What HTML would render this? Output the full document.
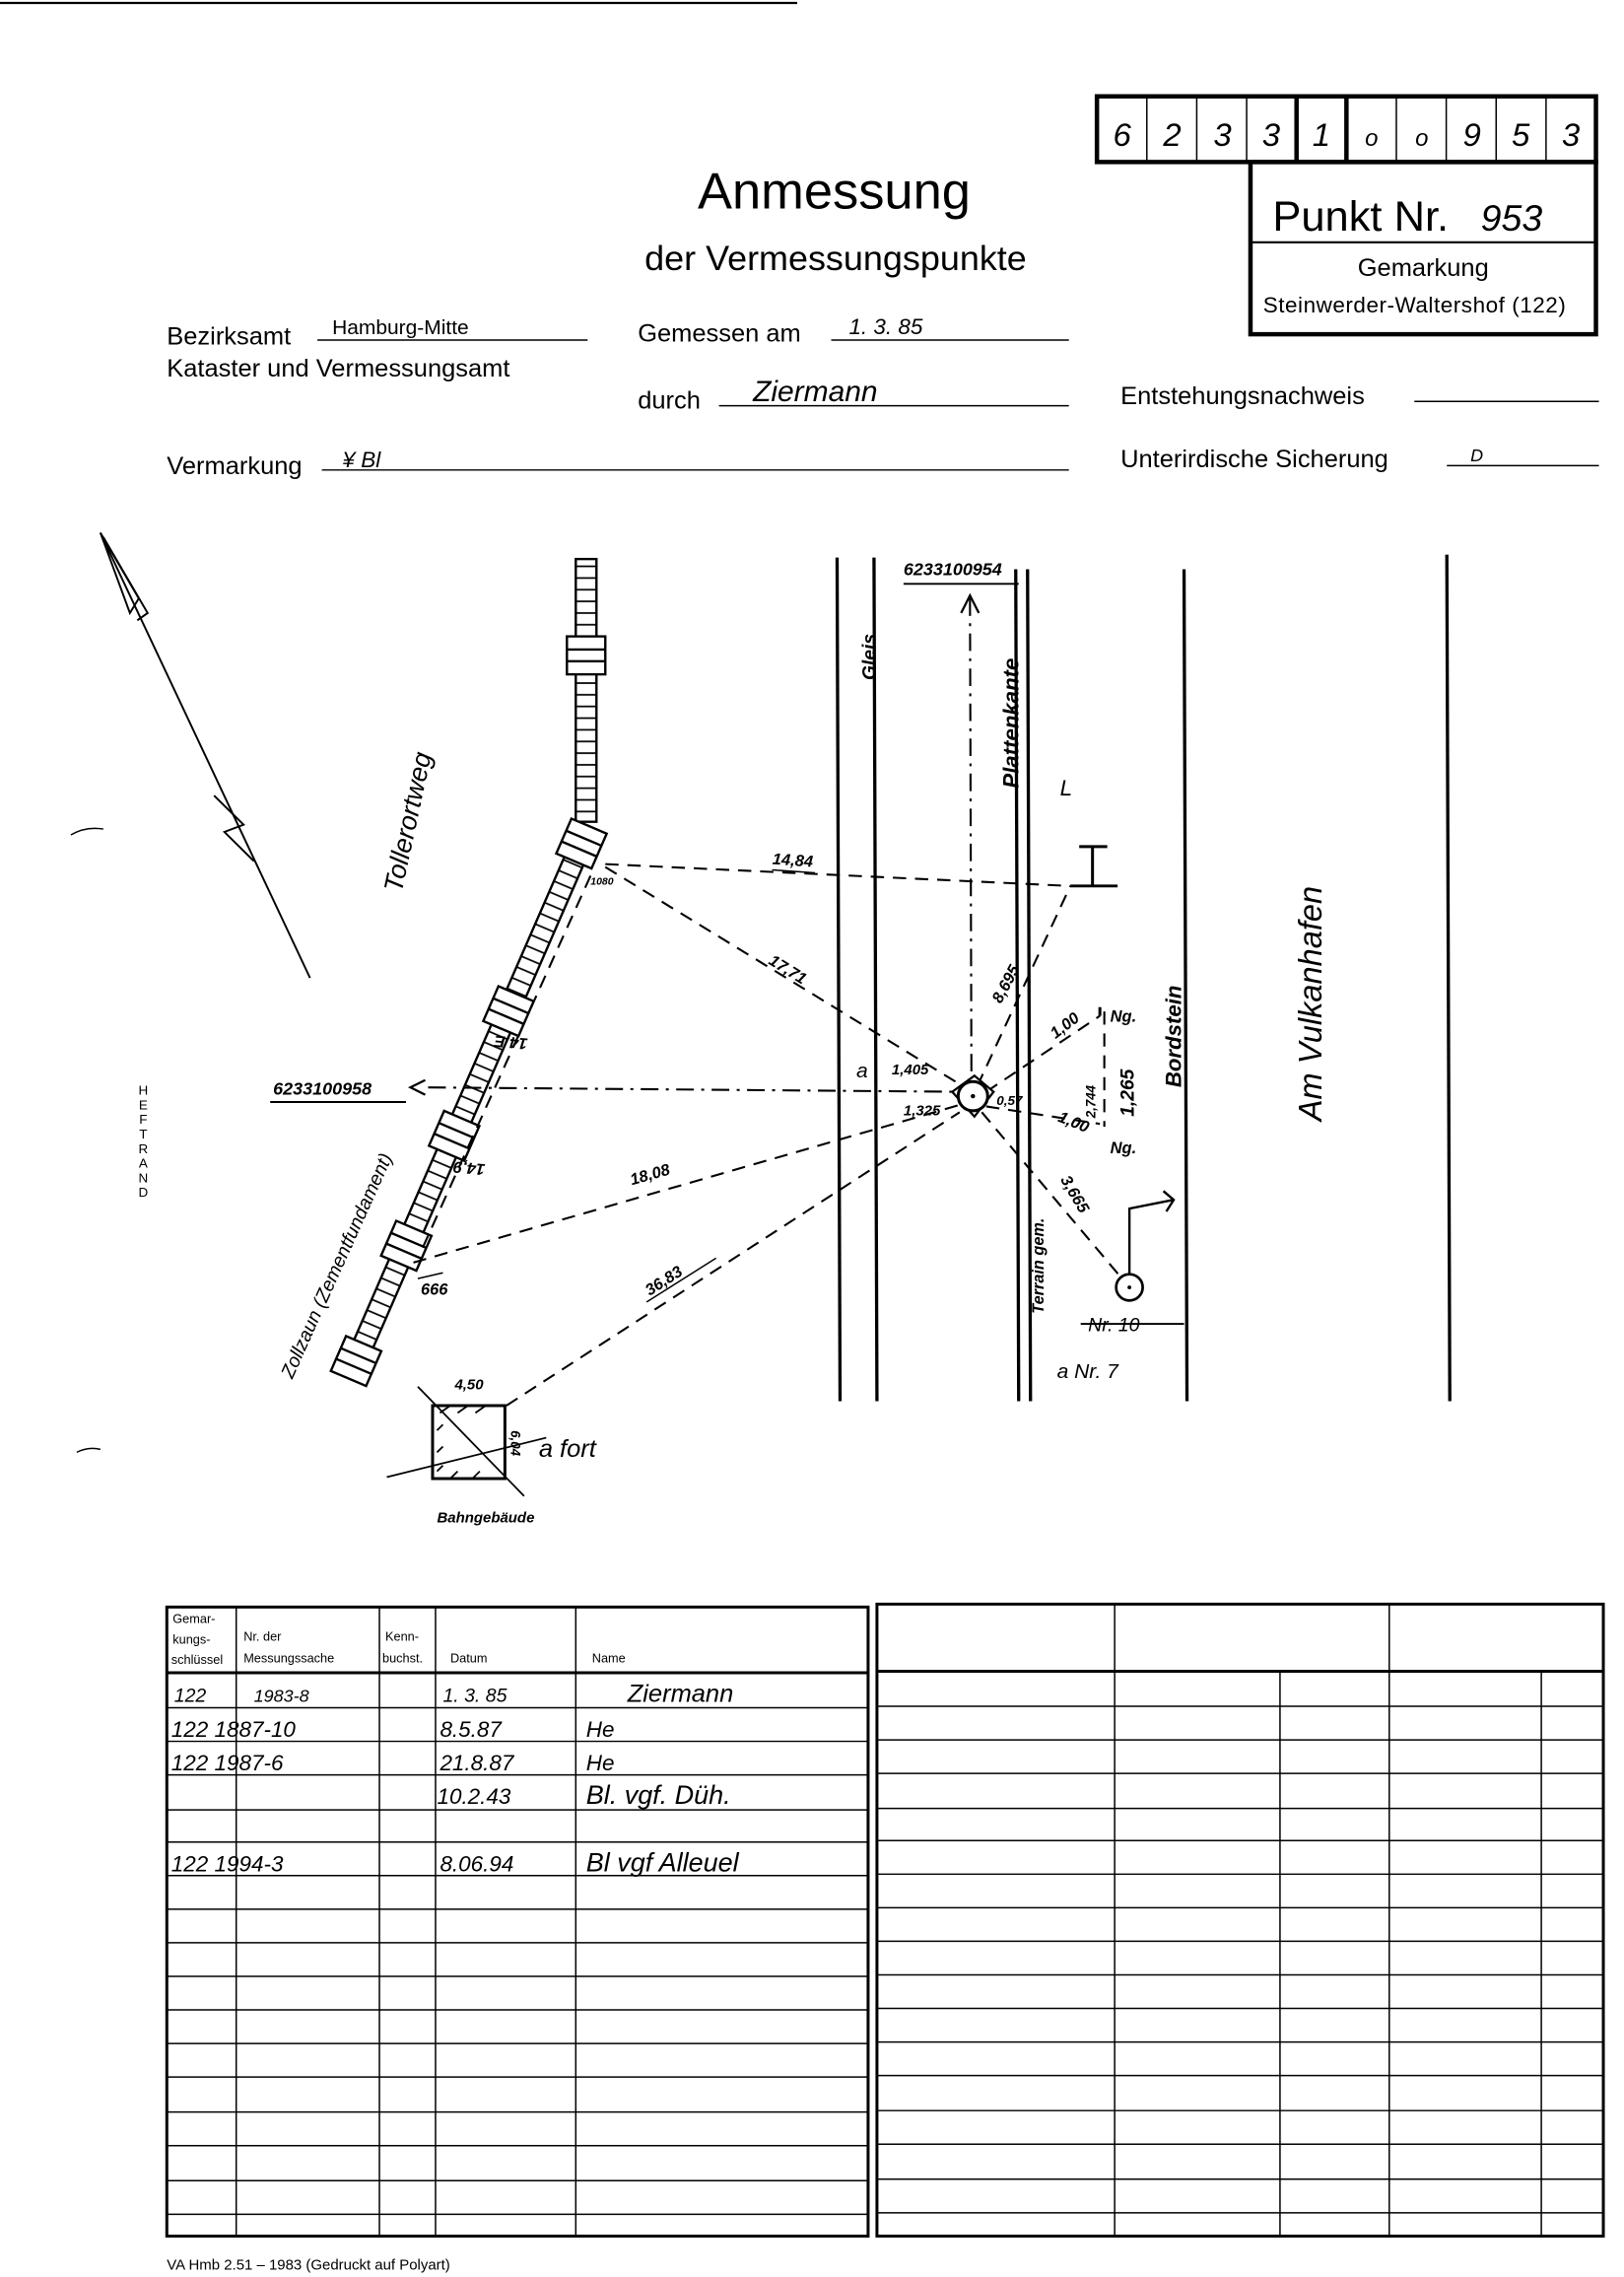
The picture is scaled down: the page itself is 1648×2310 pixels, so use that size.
<!DOCTYPE html>
<html><head><meta charset="utf-8"><style>
html,body{margin:0;padding:0;background:#fff;}
svg{display:block;}
text{font-family:"Liberation Sans",sans-serif;fill:#000;}
.h{font-family:"Liberation Sans",sans-serif;font-style:italic;}
</style></head><body>
<svg width="1648" height="2310" viewBox="0 0 1100 1560" preserveAspectRatio="none" xmlns="http://www.w3.org/2000/svg">
<defs>
<pattern id="hat" patternUnits="userSpaceOnUse" width="20" height="8"><line x1="0" y1="4" x2="20" y2="4" stroke="#000" stroke-width="1.2"/></pattern>
</defs>
<rect width="1100" height="1560" fill="#fff"/>
<line x1="0" y1="2" x2="540" y2="2" stroke="#000" stroke-width="1.5"/>

<!-- number row -->
<g stroke="#000" fill="none">
<rect x="743" y="66" width="338" height="45" stroke-width="3"/>
<line x1="776.8" y1="66" x2="776.8" y2="111" stroke-width="1"/>
<line x1="810.6" y1="66" x2="810.6" y2="111" stroke-width="1"/>
<line x1="844.4" y1="66" x2="844.4" y2="111" stroke-width="1"/>
<line x1="878.2" y1="66" x2="878.2" y2="111" stroke-width="3"/>
<line x1="912" y1="66" x2="912" y2="111" stroke-width="3"/>
<line x1="945.8" y1="66" x2="945.8" y2="111" stroke-width="1"/>
<line x1="979.6" y1="66" x2="979.6" y2="111" stroke-width="1"/>
<line x1="1013.4" y1="66" x2="1013.4" y2="111" stroke-width="1"/>
<line x1="1047.2" y1="66" x2="1047.2" y2="111" stroke-width="1"/>
<rect x="847" y="111" width="234" height="118" stroke-width="3"/>
<line x1="847" y1="166" x2="1081" y2="166" stroke-width="1.5"/>
</g>
<g class="h" font-size="22" text-anchor="middle">
<text class="h" x="760" y="100">6</text><text class="h" x="794" y="100">2</text><text class="h" x="828" y="100">3</text><text class="h" x="861" y="100">3</text><text class="h" x="895" y="100">1</text><text class="h" x="929" y="100" font-size="16">o</text><text class="h" x="963" y="100" font-size="16">o</text><text class="h" x="997" y="100">9</text><text class="h" x="1030" y="100">5</text><text class="h" x="1064" y="100">3</text>
</g>
<text x="862" y="158" font-size="29">Punkt Nr.</text>
<text class="h" x="1003" y="158" font-size="25">953</text>
<text x="964" y="189" font-size="17" text-anchor="middle">Gemarkung</text>
<text x="958" y="214" font-size="15" text-anchor="middle" textLength="205">Steinwerder-Waltershof (122)</text>

<!-- header -->
<text x="565" y="143" font-size="35" text-anchor="middle">Anmessung</text>
<text x="566" y="185" font-size="24" text-anchor="middle">der Vermessungspunkte</text>
<text x="113" y="236" font-size="17">Bezirksamt</text>
<text x="225" y="229" font-size="14">Hamburg-Mitte</text>
<line x1="215" y1="233" x2="398" y2="233" stroke="#000"/>
<text x="113" y="258" font-size="17">Kataster und Vermessungsamt</text>
<text x="432" y="234" font-size="17">Gemessen am</text>
<text class="h" x="575" y="229" font-size="15">1. 3.  85</text>
<line x1="563" y1="233" x2="724" y2="233" stroke="#000"/>
<text x="432" y="280" font-size="17">durch</text>
<text class="h" x="510" y="275" font-size="20" font-family="Liberation Serif">Ziermann</text>
<line x1="487" y1="278" x2="724" y2="278" stroke="#000"/>
<text x="113" y="325" font-size="17">Vermarkung</text>
<text class="h" x="232" y="320" font-size="15">¥  Bl</text>
<line x1="218" y1="322" x2="724" y2="322" stroke="#000"/>
<text x="759" y="277" font-size="17">Entstehungsnachweis</text>
<line x1="958" y1="275" x2="1083" y2="275" stroke="#000"/>
<text x="759" y="320" font-size="17">Unterirdische Sicherung</text>
<text class="h" x="996" y="316" font-size="12">D</text>
<line x1="980" y1="319" x2="1083" y2="319" stroke="#000"/>

<!-- margin marks -->
<path d="M48 572 Q58 566 70 568" stroke="#000" fill="none"/>
<path d="M52 995 Q60 991 68 993" stroke="#000" fill="none"/>
<g font-size="9" text-anchor="middle">
<text x="97" y="750">H</text><text x="97" y="760">E</text><text x="97" y="770">F</text><text x="97" y="780">T</text><text x="97" y="790">R</text><text x="97" y="800">A</text><text x="97" y="810">N</text><text x="97" y="820">D</text>
</g>

<!-- north arrow -->
<g stroke="#000" fill="none" stroke-width="1.3">
<line x1="68" y1="365" x2="210" y2="670"/>
<path d="M68 365 L88 420 L94 410 Z"/>
<path d="M70 368 L100 420 L93 425"/>
<path d="M145 545 L165 565 L152 570 L172 590"/>
</g>

<!-- vertical lines -->
<g stroke="#000" stroke-width="2.2">
<line x1="567" y1="382" x2="569" y2="960"/>
<line x1="592" y1="382" x2="594" y2="960"/>
<line x1="688" y1="390" x2="690" y2="960"/>
<line x1="696" y1="390" x2="698" y2="960"/>
<line x1="802" y1="390" x2="804" y2="960"/>
<line x1="980" y1="380" x2="982" y2="960"/>
</g>

<!-- fence vertical -->
<g stroke="#000" stroke-width="1.6">
<rect x="390" y="383" width="14" height="180" fill="url(#hat)"/>
<rect x="384" y="436" width="26" height="26" fill="#fff"/>
<line x1="384" y1="445" x2="410" y2="445"/><line x1="384" y1="453" x2="410" y2="453"/>
</g>
<!-- fence diagonal -->
<g transform="translate(399,566) rotate(23.3)" stroke="#000" stroke-width="1.6">
<rect x="-7" y="0" width="14" height="410" fill="url(#hat)"/>
<rect x="-13" y="0" width="26" height="26" fill="#fff"/><line x1="-13" y1="9" x2="13" y2="9"/><line x1="-13" y1="17" x2="13" y2="17"/>
<rect x="-13" y="125" width="26" height="26" fill="#fff"/><line x1="-13" y1="134" x2="13" y2="134"/><line x1="-13" y1="142" x2="13" y2="142"/>
<rect x="-13" y="218" width="26" height="26" fill="#fff"/><line x1="-13" y1="227" x2="13" y2="227"/><line x1="-13" y1="235" x2="13" y2="235"/>
<rect x="-13" y="300" width="26" height="26" fill="#fff"/><line x1="-13" y1="309" x2="13" y2="309"/><line x1="-13" y1="317" x2="13" y2="317"/>
<rect x="-13" y="386" width="26" height="26" fill="#fff"/><line x1="-13" y1="395" x2="13" y2="395"/><line x1="-13" y1="403" x2="13" y2="403"/>
</g>
<text class="h" font-size="18" transform="translate(272,612) rotate(-78)">Tollerortweg</text>
<text class="h" font-size="13" transform="translate(198,945) rotate(-66)">Zollzaun (Zementfundament)</text>

<!-- dashed lines -->
<g stroke="#000" stroke-width="1.4" fill="none" stroke-dasharray="9 6">
<line x1="410" y1="592" x2="725" y2="607"/>
<line x1="410" y1="594" x2="652" y2="744"/>
<line x1="280" y1="865" x2="650" y2="757"/>
<line x1="343" y1="963" x2="650" y2="762"/>
<line x1="662" y1="744" x2="725" y2="607"/>
<line x1="668" y1="748" x2="745" y2="696"/>
<line x1="668" y1="758" x2="745" y2="770"/>
<line x1="665" y1="762" x2="760" y2="876"/>
<line x1="400" y1="600" x2="284" y2="860"/>
<line x1="748" y1="693" x2="748" y2="772"/>
</g>
<g stroke="#000" stroke-width="1.4" fill="none" stroke-dasharray="12 5 2 5">
<line x1="290" y1="745" x2="650" y2="748"/>
<line x1="657" y1="410" x2="658" y2="740"/>
</g>
<path d="M651 420 L657 408 L663 420" stroke="#000" fill="none" stroke-width="1.5"/>
<path d="M288 740 L278 745 L288 750" stroke="#000" fill="none" stroke-width="1.5"/>
<text class="h" x="185" y="750" font-size="12" font-weight="bold">6233100958</text>
<line x1="183" y1="755" x2="275" y2="755" stroke="#000" stroke-width="1.3"/>
<text class="h" x="612" y="394" font-size="12" font-weight="bold">6233100954</text>
<line x1="612" y1="400" x2="690" y2="400" stroke="#000" stroke-width="1.3"/>

<!-- center point -->
<path d="M645 748 L660 737 L673 748 L660 765 Z" stroke="#000" fill="#fff" stroke-width="1.5"/>
<circle cx="659" cy="751" r="10" stroke="#000" fill="#fff" stroke-width="2"/>
<circle cx="659" cy="751" r="1.5"/>

<!-- I beam -->
<g stroke="#000" stroke-width="2">
<line x1="725" y1="607" x2="757" y2="607"/><line x1="740" y1="580" x2="740" y2="607"/><line x1="731" y1="580" x2="750" y2="580"/>
<line x1="745" y1="690" x2="745" y2="696"/>
</g>
<text class="h" x="718" y="545" font-size="15">L</text>

<!-- point 10 -->
<circle cx="765" cy="882" r="9" stroke="#000" fill="none" stroke-width="1.8"/>
<circle cx="765" cy="882" r="1.3"/>
<path d="M765 873 L765 828 L795 822 M788 816 L795 822 L790 830" stroke="#000" fill="none" stroke-width="1.6"/>
<text class="h" x="737" y="912" font-size="13">Nr. 10</text>
<line x1="732" y1="907" x2="802" y2="907" stroke="#000" stroke-width="1.2"/>
<text class="h" x="716" y="944" font-size="14">a Nr. 7</text>

<!-- building -->
<rect x="293" y="963" width="49" height="50" stroke="#000" fill="none" stroke-width="2"/>
<g stroke="#000" stroke-width="1.2">
<line x1="283" y1="950" x2="355" y2="1025"/>
<line x1="262" y1="1012" x2="370" y2="985"/>
<line x1="298" y1="968" x2="305" y2="963"/><line x1="310" y1="968" x2="317" y2="963"/><line x1="322" y1="968" x2="329" y2="963"/>
<line x1="296" y1="980" x2="300" y2="976"/><line x1="296" y1="995" x2="300" y2="991"/><line x1="296" y1="1008" x2="300" y2="1004"/>
<line x1="305" y1="1013" x2="310" y2="1008"/><line x1="320" y1="1013" x2="325" y2="1008"/>
</g>
<text class="h" x="308" y="952" font-size="10" font-weight="bold">4,50</text>
<text class="h" x="296" y="1043" font-size="10" font-weight="bold">Bahngebäude</text>
<text class="h" x="365" y="998" font-size="17">a fort</text>
<text class="h" font-size="9" font-weight="bold" transform="translate(346,980) rotate(90)">6,04</text>

<!-- labels -->
<g class="h" font-size="11" font-weight="bold">
<text class="h" x="523" y="592" transform="rotate(4 523 592)">14,84</text>
<line x1="523" y1="596" x2="552" y2="598" stroke="#000"/>
<text class="h" x="520" y="660" transform="rotate(32 520 660)">17,71</text>
<text class="h" x="428" y="812" transform="rotate(-16 428 812)">18,08</text>
<text class="h" x="440" y="888" transform="rotate(-33 440 888)">36,83</text>
<line x1="438" y1="892" x2="485" y2="862" stroke="#000"/>
<text class="h" x="346" y="705" transform="rotate(185 352 708)">14,E</text>
<text class="h" x="315" y="793" transform="rotate(185 322 795)">14,9</text>
<text class="h" x="285" y="887">666</text>
<line x1="283" y1="876" x2="300" y2="872" stroke="#000"/>
<text class="h" x="400" y="606" font-size="7">1080</text>
<text class="h" x="604" y="736" font-size="10">1,405</text>
<text class="h" x="612" y="764" font-size="10">1,325</text>
<text class="h" x="580" y="738" font-size="14" font-weight="normal">a</text>
<text class="h" x="675" y="757" font-size="9">0,57</text>
<text class="h" x="678" y="688" transform="rotate(-62 678 688)">8,695</text>
<text class="h" x="715" y="712" transform="rotate(-38 715 712)">1,00</text>
<text class="h" x="716" y="768" transform="rotate(22 716 768)">1,00</text>
<text class="h" x="752" y="700">Ng.</text>
<text class="h" x="752" y="790">Ng.</text>
<text class="h" x="742" y="766" font-size="9" transform="rotate(-90 742 766)">2,744</text>
<text class="h" x="768" y="765" font-size="13" transform="rotate(-90 768 765)">1,265</text>
<text class="h" x="718" y="808" transform="rotate(60 718 808)">3,665</text>
<text class="h" x="707" y="900" transform="rotate(-90 707 900)">Terrain gem.</text>
</g>
<g class="h" font-weight="bold">
<text class="h" x="0" y="0" font-size="13" transform="translate(593,466) rotate(-90)">Gleis</text>
<text class="h" x="0" y="0" font-size="15" transform="translate(690,540) rotate(-90)">Plattenkante</text>
<text class="h" x="0" y="0" font-size="15" transform="translate(800,745) rotate(-90)">Bordstein</text>
</g>
<text class="h" x="0" y="0" font-size="22" transform="translate(895,768) rotate(-90)">Am   Vulkanhafen</text>

<!-- left table -->
<g stroke="#000" fill="none">
<rect x="113" y="1101" width="475" height="431" stroke-width="2"/>
<line x1="113" y1="1146" x2="588" y2="1146" stroke-width="2"/>
<line x1="160" y1="1101" x2="160" y2="1532"/>
<line x1="257" y1="1101" x2="257" y2="1532"/>
<line x1="295" y1="1101" x2="295" y2="1532"/>
<line x1="390" y1="1101" x2="390" y2="1532"/>
<path d="M113 1170H588M113 1193H588M113 1216H588M113 1240H588M113 1262H588M113 1285H588M113 1308H588M113 1331H588M113 1354H588M113 1377H588M113 1400H588M113 1423H588M113 1447H588M113 1470H588M113 1494H588M113 1517H588"/>
<!-- right table -->
<rect x="594" y="1099" width="492" height="433" stroke-width="2"/>
<line x1="594" y1="1145" x2="1086" y2="1145" stroke-width="2"/>
<line x1="755" y1="1099" x2="755" y2="1532"/>
<line x1="941" y1="1099" x2="941" y2="1532"/>
<line x1="867" y1="1145" x2="867" y2="1532"/>
<line x1="1044" y1="1145" x2="1044" y2="1532"/>
<path d="M594 1169H1086M594 1192H1086M594 1215H1086M594 1239H1086M594 1261H1086M594 1284H1086M594 1307H1086M594 1330H1086M594 1353H1086M594 1376H1086M594 1399H1086M594 1422H1086M594 1446H1086M594 1469H1086M594 1493H1086M594 1516H1086"/>
</g>
<g font-size="8.5" font-family="Liberation Sans Narrow,Liberation Sans,sans-serif">
<text x="117" y="1112">Gemar-</text><text x="117" y="1126">kungs-</text><text x="116" y="1140">schlüssel</text>
<text x="165" y="1124">Nr. der</text><text x="165" y="1139">Messungssache</text>
<text x="261" y="1124">Kenn-</text><text x="259" y="1139">buchst.</text>
<text x="305" y="1139">Datum</text>
<text x="401" y="1139">Name</text>
</g>
<g class="h" font-size="15">
<text class="h" x="118" y="1166" font-size="13">122</text><text class="h" x="172" y="1166" font-size="12">1983-8</text><text class="h" x="300" y="1166" font-size="13">1. 3. 85</text><text class="h" x="425" y="1166" font-family="Liberation Serif" font-size="17">Ziermann</text>
<text class="h" x="116" y="1190">122 1887-10</text><text class="h" x="298" y="1190">8.5.87</text><text class="h" x="397" y="1190">He</text>
<text class="h" x="116" y="1213">122 1987-6</text><text class="h" x="298" y="1213">21.8.87</text><text class="h" x="397" y="1213">He</text>
<text class="h" x="296" y="1236">10.2.43</text><text class="h" x="397" y="1236" font-size="18">Bl. vgf. Düh.</text>
<text class="h" x="116" y="1282">122 1994-3</text><text class="h" x="298" y="1282">8.06.94</text><text class="h" x="397" y="1282" font-size="18">Bl vgf Alleuel</text>
</g>
<text x="113" y="1555" font-size="10">VA Hmb 2.51 – 1983 (Gedruckt auf Polyart)</text>
</svg>
</body></html>
